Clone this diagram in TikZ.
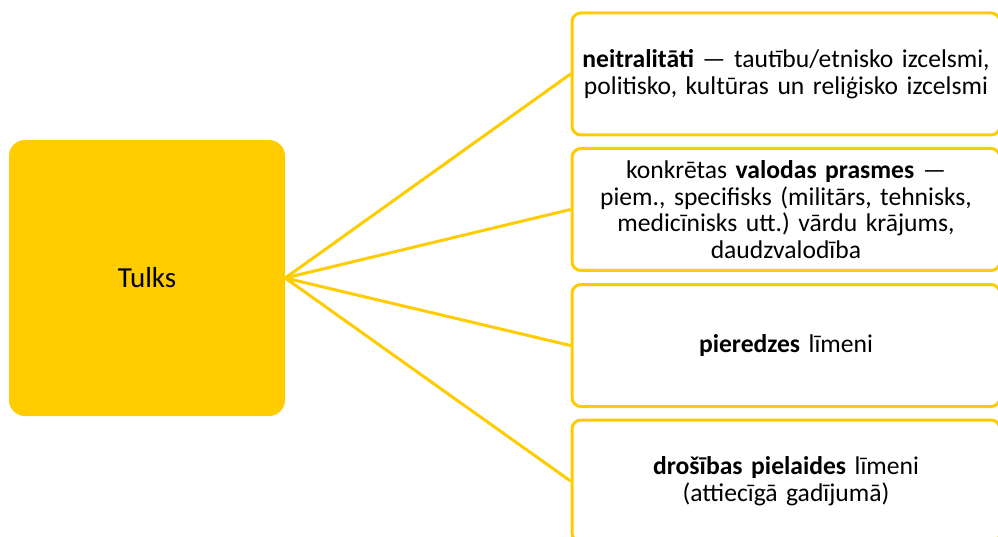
\documentclass[tikz,border=0pt]{standalone}
\usepackage{fontspec}
\setmainfont{Carlito}
\usepackage{tikz}
\usepackage{xcolor}
\usetikzlibrary{positioning}
\definecolor{tulkgold}{HTML}{FFCC00}

\tikzset{
    infobox/.style={rectangle, draw=tulkgold, line width=3pt, rounded corners=9pt, fill=white,
        minimum width=428pt, minimum height=122pt, text width=421pt, align=center,
        font=\fontsize{25.6}{26.7}\selectfont},
    linkline/.style={draw=tulkgold, line width=3pt}
}

\begin{document}
\frenchspacing
\begin{tikzpicture}[x=1pt, y=-1pt]
            \useasboundingbox (0, 0) rectangle (998, 537);
            \node[rectangle, fill=tulkgold, rounded corners=16pt, minimum width=276pt, minimum height=276pt,
                font=\fontsize{29}{32}\selectfont] (tulks) at (147, 278) {Tulks};

            \node[infobox] (neutral) at (786, 74) {\textbf{neitralitāti} — tautību/etnisko izcelsmi,\\politisko, kultūras un reliģisko izcelsmi};
            \node[infobox] (language) at (786, 209.5) {konkrētas \textbf{valodas prasmes} —\\piem., specifisks (militārs, tehnisks,\\medicīnisks utt.) vārdu krājums,\\daudzvalodība};
            \node[infobox] (experience) at (786, 345.5) {\textbf{pieredzes} līmeni};
            \node[infobox] (clearance) at (786, 481) {\textbf{drošības pielaides} līmeni\\(attiecīgā gadījumā)};

            \draw[linkline] (tulks.east) -- (neutral.west);
            \draw[linkline] (tulks.east) -- (language.west);
            \draw[linkline] (tulks.east) -- (experience.west);
            \draw[linkline] (tulks.east) -- (clearance.west);
        \end{tikzpicture}
\end{document}
